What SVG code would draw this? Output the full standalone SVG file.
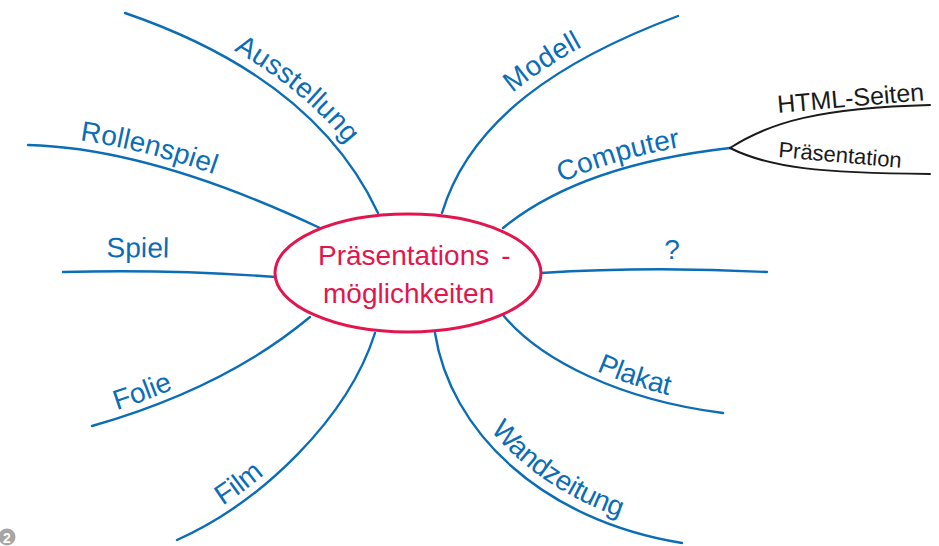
<svg xmlns="http://www.w3.org/2000/svg" width="939" height="546" viewBox="0 0 939 546">
  <style>
    .br { fill: none; stroke: #0b6db6; stroke-width: 2.4; stroke-linecap: round; }
    .bk { fill: none; stroke: #1a1a1a; stroke-width: 2; stroke-linecap: round; }
    .lb { font-family: "Liberation Sans", Arial, sans-serif; font-size: 28px; fill: #0b6db6; }
    .lk { font-family: "Liberation Sans", Arial, sans-serif; fill: #1a1a1a; }
    .ct { font-family: "Liberation Sans", Arial, sans-serif; font-size: 28px; fill: #e3154f; }
  </style>
  <defs>
    <path id="pA" d="M125,13 Q315,78 378,213"/>
    <path id="pR" d="M28,145 Q150,148 320,228"/>
    <path id="pS" d="M63,272 Q170,269 276,277"/>
    <path id="pF" d="M92,426 Q225,388 310,317"/>
    <path id="pFi" d="M177,540 C262,502 348,418 375,333"/>
    <path id="pM" d="M442,213 C470,120 560,60 678,16"/>
    <path id="pC" d="M503,228 Q580,165 730,148"/>
    <path id="pQ" d="M541,273 Q650,266 767,272"/>
    <path id="pP" d="M503,315 C540,360 620,400 723,413"/>
    <path id="pW" d="M435,333 C450,430 540,520 682,543"/>
  </defs>

  <g id="connectors">
    <use href="#pA" class="br"/>
    <use href="#pR" class="br"/>
    <use href="#pS" class="br"/>
    <use href="#pF" class="br"/>
    <use href="#pFi" class="br"/>
    <use href="#pM" class="br"/>
    <use href="#pC" class="br"/>
    <use href="#pQ" class="br"/>
    <use href="#pP" class="br"/>
    <use href="#pW" class="br"/>
    <path class="bk" d="M730,148 C770,122 820,108 930,105"/>
    <path class="bk" d="M730,148 C770,168 820,173 930,174"/>
  </g>

  <g id="center">
    <ellipse cx="408" cy="273" rx="133" ry="59" fill="#ffffff" stroke="#e3154f" stroke-width="3"/>
    <text class="ct" x="318" y="265">Präsentations<tspan dx="12">-</tspan></text>
    <text class="ct" x="323" y="303">möglichkeiten</text>
  </g>

  <g id="n-ausstellung"><text class="lb" dy="-10"><textPath href="#pA" startOffset="56%" text-anchor="middle">Ausstellung</textPath></text></g>
  <g id="n-rollenspiel"><text class="lb" dy="-9"><textPath href="#pR" startOffset="39%" text-anchor="middle">Rollenspiel</textPath></text></g>
  <g id="n-spiel"><text class="lb" dy="-14"><textPath href="#pS" startOffset="35%" text-anchor="middle">Spiel</textPath></text></g>
  <g id="n-folie"><text class="lb" dy="-8"><textPath href="#pF" startOffset="24%" text-anchor="middle">Folie</textPath></text></g>
  <g id="n-film"><text class="lb" dy="-8"><textPath href="#pFi" startOffset="28.5%" text-anchor="middle">Film</textPath></text></g>
  <g id="n-modell"><text class="lb" dy="-11"><textPath href="#pM" startOffset="56%" text-anchor="middle">Modell</textPath></text></g>
  <g id="n-computer"><text class="lb" dy="-8"><textPath href="#pC" startOffset="55%" text-anchor="middle">Computer</textPath></text></g>
  <g id="n-frage"><text class="lb" x="672" y="259" text-anchor="middle">?</text></g>
  <g id="n-plakat"><text class="lb" dy="-8"><textPath href="#pP" startOffset="61%" text-anchor="middle">Plakat</textPath></text></g>
  <g id="n-wandzeitung"><text class="lb" dy="-10"><textPath href="#pW" startOffset="57%" text-anchor="middle">Wandzeitung</textPath></text></g>
  <g id="n-html"><text class="lk" font-size="25" x="778" y="113" transform="rotate(-5 778 113)">HTML-Seiten</text></g>
  <g id="n-praesentation"><text class="lk" font-size="22" x="778" y="157" transform="rotate(5 778 157)">Präsentation</text></g>

  <g id="badge">
    <circle cx="7" cy="537" r="8.5" fill="#a6a6a6"/>
    <text x="7" y="542.5" text-anchor="middle" font-family="Liberation Sans, Arial, sans-serif" font-weight="bold" font-size="14" fill="#ffffff">2</text>
  </g>
</svg>
